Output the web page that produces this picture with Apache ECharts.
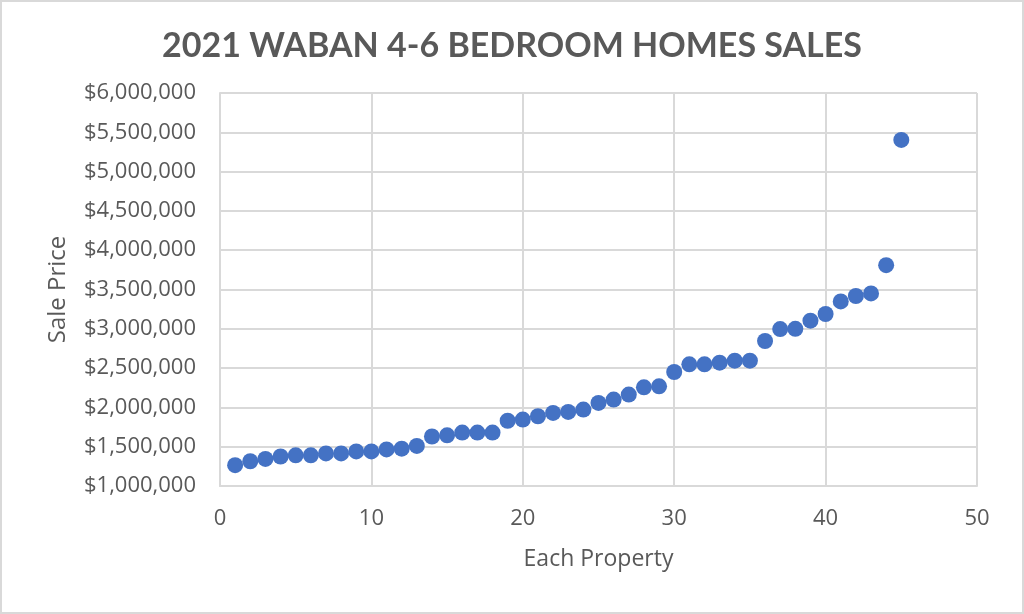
<!DOCTYPE html>
<html><head><meta charset="utf-8">
<script src="https://cdn.jsdelivr.net/npm/echarts@6/dist/echarts.min.js"></script>
<style>html,body{margin:0;padding:0;background:#fff}#c{width:1024px;height:614px}</style>
</head><body><div id="c"></div>
<script>
const titleText = '2021 WABAN 4-6 BEDROOM HOMES SALES';
const xName = 'Each Property';
const yName = 'Sale Price';
const propertyIndex = [1,2,3,4,5,6,7,8,9,10,11,12,13,14,15,16,17,18,19,20,21,22,23,24,25,26,27,28,29,30,31,32,33,34,35,36,37,38,39,40,41,42,43,44,45];
const salePrice = [1265000,1315000,1345000,1375000,1390000,1390000,1415000,1415000,1440000,1440000,1465000,1475000,1510000,1630000,1645000,1680000,1680000,1680000,1830000,1845000,1887000,1930000,1943000,1972000,2057000,2100000,2163000,2255000,2268000,2450000,2548000,2548000,2569000,2595000,2595000,2845000,2997000,3000000,3103000,3188000,3348000,3417000,3450000,3810000,5403000];

const points = propertyIndex.map((x, i) => [x, salePrice[i]]);
const fmt = v => '$' + Math.round(v).toString().replace(/\B(?=(\d{3})+(?!\d))/g, ',');
const chart = echarts.init(document.getElementById('c'), null, {renderer: 'canvas'});
const labelFont = 'Open Sans';
chart.setOption({
  animation: false,
  backgroundColor: '#fff',
  title: {
    text: titleText, left: 'center', top: 24,
    textStyle: {fontFamily: 'Lato', fontWeight: 'bold', fontSize: 34, color: '#595959'}
  },
  graphic: [{type: 'rect', shape: {x: 1, y: 1, width: 1022, height: 612}, style: {fill: 'none', stroke: '#d9d9d9', lineWidth: 2}}],
  grid: {left: 220, right: 47, top: 93, bottom: 128},
  xAxis: {
    type: 'value', min: 0, max: 50, interval: 10,
    name: xName, nameLocation: 'middle', nameGap: 62,
    nameTextStyle: {fontFamily: labelFont, fontSize: 23, color: '#595959'},
    axisLine: {show: true, lineStyle: {color: '#d9d9d9', width: 2}},
    axisTick: {show: false},
    axisLabel: {fontFamily: labelFont, fontSize: 22, color: '#595959', margin: 22},
    splitLine: {show: true, lineStyle: {color: '#d9d9d9', width: 2}}
  },
  yAxis: {
    type: 'value', min: 1000000, max: 6000000, interval: 500000,
    name: yName, nameLocation: 'middle', nameGap: 150, nameRotate: 90,
    nameTextStyle: {fontFamily: labelFont, fontSize: 24, color: '#595959'},
    axisLine: {show: true, lineStyle: {color: '#d9d9d9', width: 2}},
    axisTick: {show: false},
    axisLabel: {fontFamily: labelFont, fontSize: 22, color: '#595959', margin: 24, formatter: fmt},
    splitLine: {show: true, lineStyle: {color: '#d9d9d9', width: 2}}
  },
  series: [{
    type: 'scatter', data: points, symbol: 'circle', symbolSize: 16,
    itemStyle: {color: '#4472C4', opacity: 1}
  }]
});
</script></body></html>
